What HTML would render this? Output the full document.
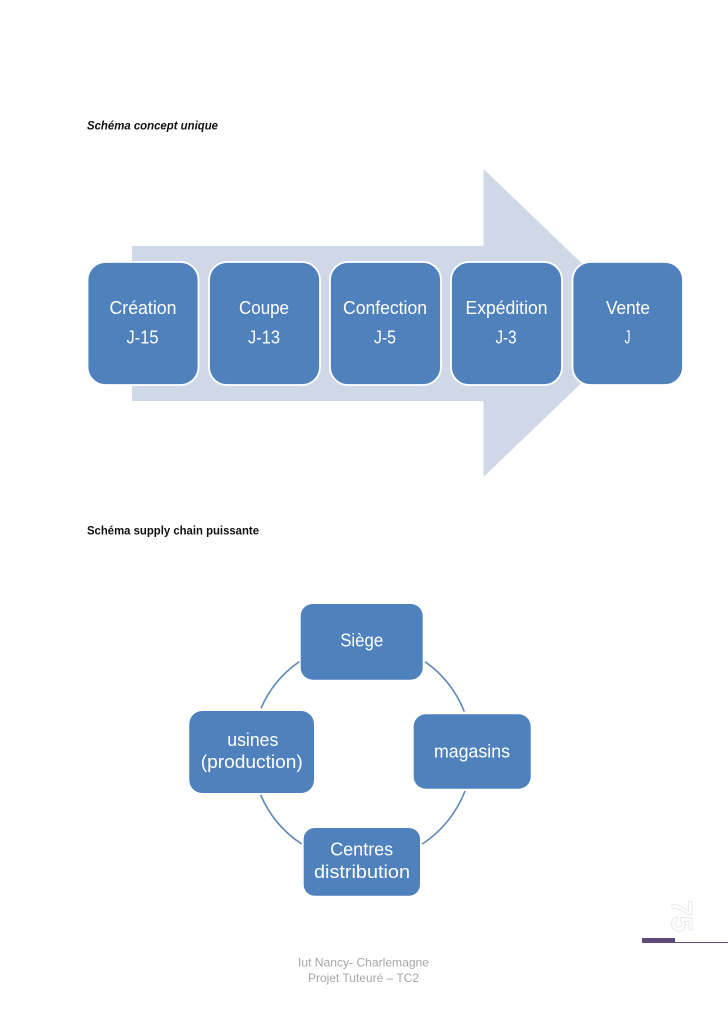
<!DOCTYPE html>
<html lang="fr">
<head>
<meta charset="utf-8">
<title>Schémas</title>
<style>
html,body{margin:0;padding:0;background:#fff;width:728px;height:1030px;overflow:hidden}
svg{display:block}
text{font-family:"Liberation Sans",sans-serif}
.w{fill:#fff;font-size:18px;text-anchor:middle}
.f{fill:#a6a6a6;font-size:12px}
</style>
</head>
<body>
<svg width="728" height="1030" viewBox="0 0 728 1030" xmlns="http://www.w3.org/2000/svg">
<rect width="728" height="1030" fill="#fff"/>

<text x="87" y="129.5" font-size="12" font-weight="bold" font-style="italic" fill="#111" textLength="131" lengthAdjust="spacingAndGlyphs">Schéma concept unique</text>
<text x="87" y="534.5" font-size="12" font-weight="bold" fill="#111" textLength="172" lengthAdjust="spacingAndGlyphs">Schéma supply chain puissante</text>

<polygon points="132,246 483.5,246 483.5,169 644,323 483.5,477 483.5,401 132,401" fill="#d0d8e8"/>

<g fill="#4f81bd" stroke="#fff" stroke-width="1.8">
<rect x="87.5" y="262" width="111" height="123" rx="18"/>
<rect x="209" y="262" width="111" height="123" rx="18"/>
<rect x="330" y="262" width="111" height="123" rx="18"/>
<rect x="451" y="262" width="111" height="123" rx="18"/>
<rect x="572.5" y="262" width="110.5" height="123" rx="18"/>
</g>

<text class="w" x="143" y="314" textLength="67" lengthAdjust="spacingAndGlyphs">Création</text>
<text class="w" x="142.5" y="343.5" textLength="32" lengthAdjust="spacingAndGlyphs">J-15</text>
<text class="w" x="264" y="314" textLength="50" lengthAdjust="spacingAndGlyphs">Coupe</text>
<text class="w" x="264" y="343.5" textLength="32" lengthAdjust="spacingAndGlyphs">J-13</text>
<text class="w" x="385" y="314" textLength="84" lengthAdjust="spacingAndGlyphs">Confection</text>
<text class="w" x="385" y="343.5" textLength="22" lengthAdjust="spacingAndGlyphs">J-5</text>
<text class="w" x="506.5" y="314" textLength="82" lengthAdjust="spacingAndGlyphs">Expédition</text>
<text class="w" x="506" y="343.5" textLength="21" lengthAdjust="spacingAndGlyphs">J-3</text>
<text class="w" x="628" y="314" textLength="44" lengthAdjust="spacingAndGlyphs">Vente</text>
<text class="w" x="627.5" y="343.5" textLength="6" lengthAdjust="spacingAndGlyphs">J</text>

<g fill="none" stroke="#5f8ab8" stroke-width="1.6">
<path d="M425 661.7 A110 110 0 0 1 464.3 711.7"/>
<path d="M465 791 A111 111 0 0 1 422.3 844"/>
<path d="M301.7 844 A111 111 0 0 1 260.7 795"/>
<path d="M261 708.3 A109 109 0 0 1 299.3 661.7"/>
</g>

<g fill="#4f81bd">
<rect x="300.7" y="604" width="122" height="75.7" rx="12"/>
<rect x="413.7" y="714.3" width="117" height="74.4" rx="12"/>
<rect x="303.7" y="828" width="116.3" height="67.7" rx="11"/>
<rect x="189.3" y="711" width="124.7" height="82" rx="13"/>
</g>

<text class="w" x="361.7" y="646.7" textLength="43" lengthAdjust="spacingAndGlyphs">Siège</text>
<text class="w" x="472" y="757.3" textLength="76" lengthAdjust="spacingAndGlyphs">magasins</text>
<text class="w" x="252.8" y="746" textLength="51" lengthAdjust="spacingAndGlyphs">usines</text>
<text class="w" x="251.8" y="768" textLength="102" lengthAdjust="spacingAndGlyphs">(production)</text>
<text class="w" x="361.7" y="855.7" textLength="63" lengthAdjust="spacingAndGlyphs">Centres</text>
<text class="w" x="362" y="878" textLength="96" lengthAdjust="spacingAndGlyphs">distribution</text>

<text class="f" x="298" y="966.5" textLength="131" lengthAdjust="spacingAndGlyphs">Iut Nancy- Charlemagne</text>
<text class="f" x="308" y="982" textLength="111" lengthAdjust="spacingAndGlyphs">Projet Tuteuré – TC2</text>

<text transform="translate(672 900) rotate(90)" font-size="29" font-weight="bold" fill="#fff" stroke="#dcdcdc" stroke-width="0.6" textLength="32" lengthAdjust="spacingAndGlyphs">75</text>

<rect x="642" y="938" width="33" height="5" fill="#5f497a"/>
<rect x="675" y="942" width="53" height="1" fill="#5f497a"/>
</svg>
</body>
</html>
